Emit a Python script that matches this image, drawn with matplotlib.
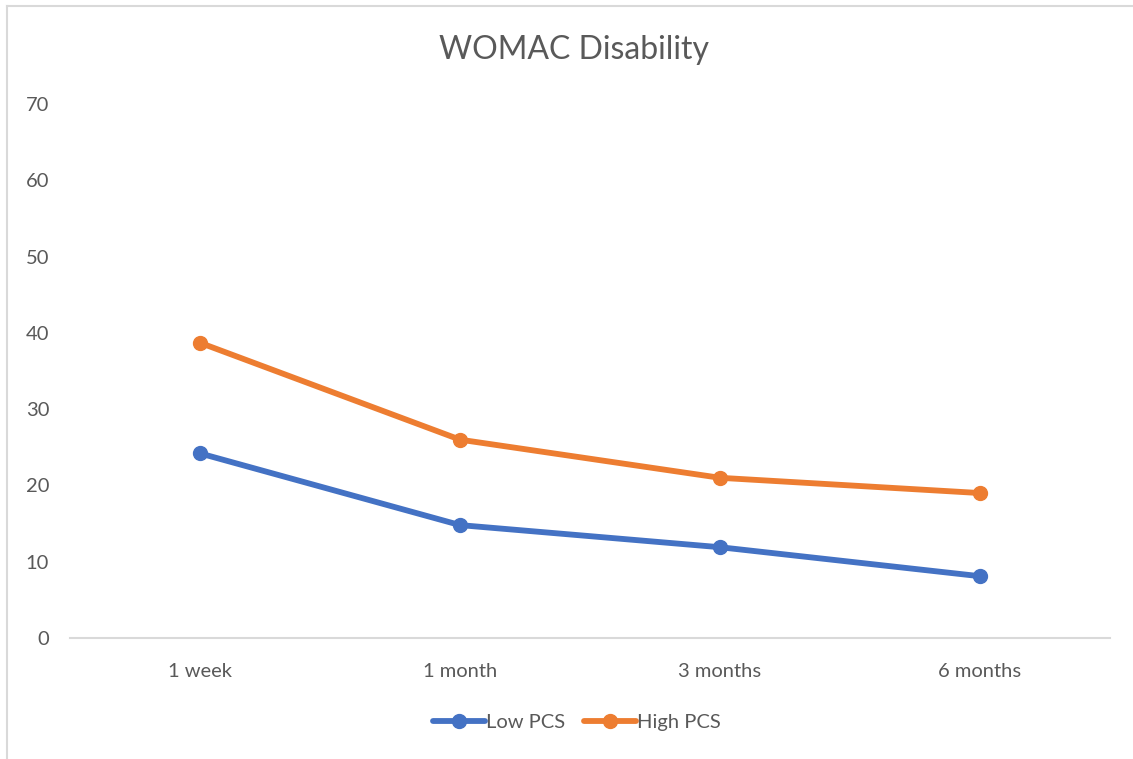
import matplotlib.pyplot as plt
import matplotlib.lines as mlines

plt.rcParams['font.family'] = ['Lato', 'DejaVu Sans']

# Datos
periodos = ['1 week', '1 month', '3 months', '6 months']
low_pcs = [24.2, 14.8, 11.9, 8.1]
high_pcs = [38.7, 26.0, 21.0, 19.0]

gris_texto = '#595959'
azul = '#4472C4'
naranja = '#ED7D31'

fig = plt.figure(figsize=(11.33, 7.59), dpi=100)
ax = fig.add_axes([70 / 1133, 1 - 638 / 759, 1040 / 1133, (638 - 104) / 759])

x = range(len(periodos))
ax.plot(x, low_pcs, color=azul, lw=4.2, marker='o', ms=10, label='Low PCS',
        solid_capstyle='round')
ax.plot(x, high_pcs, color=naranja, lw=4.2, marker='o', ms=10, label='High PCS',
        solid_capstyle='round')

ax.set_xlim(-0.5, len(periodos) - 0.5)
ax.set_ylim(0, 70)
ax.set_yticks(range(0, 71, 10))
ax.set_xticks(list(x))
ax.set_xticklabels(periodos)

for s in ['top', 'right', 'left']:
    ax.spines[s].set_visible(False)
ax.spines['bottom'].set_color('#D9D9D9')
ax.spines['bottom'].set_linewidth(1.5)
ax.tick_params(axis='both', length=0, labelsize=14.5, labelcolor=gris_texto)
ax.tick_params(axis='y', pad=15)
ax.tick_params(axis='x', pad=18)

fig.text(574 / 1133, 1 - 50 / 759, 'WOMAC Disability', ha='center', va='center',
         fontsize=23, color=gris_texto)

leg = fig.legend(loc='center', bbox_to_anchor=(577 / 1133, 1 - 722 / 759), ncol=2,
                 frameon=False, fontsize=14.5, handlelength=2.6, columnspacing=0.9,
                 handletextpad=0.05)
for t in leg.get_texts():
    t.set_color(gris_texto)

# Borde del area del grafico (solo izquierda y arriba visibles)
fig.add_artist(mlines.Line2D([7 / 1133, 7 / 1133], [0, 1 - 6 / 759],
                             transform=fig.transFigure, color='#D9D9D9', lw=1.5))
fig.add_artist(mlines.Line2D([7 / 1133, 1], [1 - 6 / 759, 1 - 6 / 759],
                             transform=fig.transFigure, color='#D9D9D9', lw=1.5))

fig.savefig('out.png', dpi=100)
